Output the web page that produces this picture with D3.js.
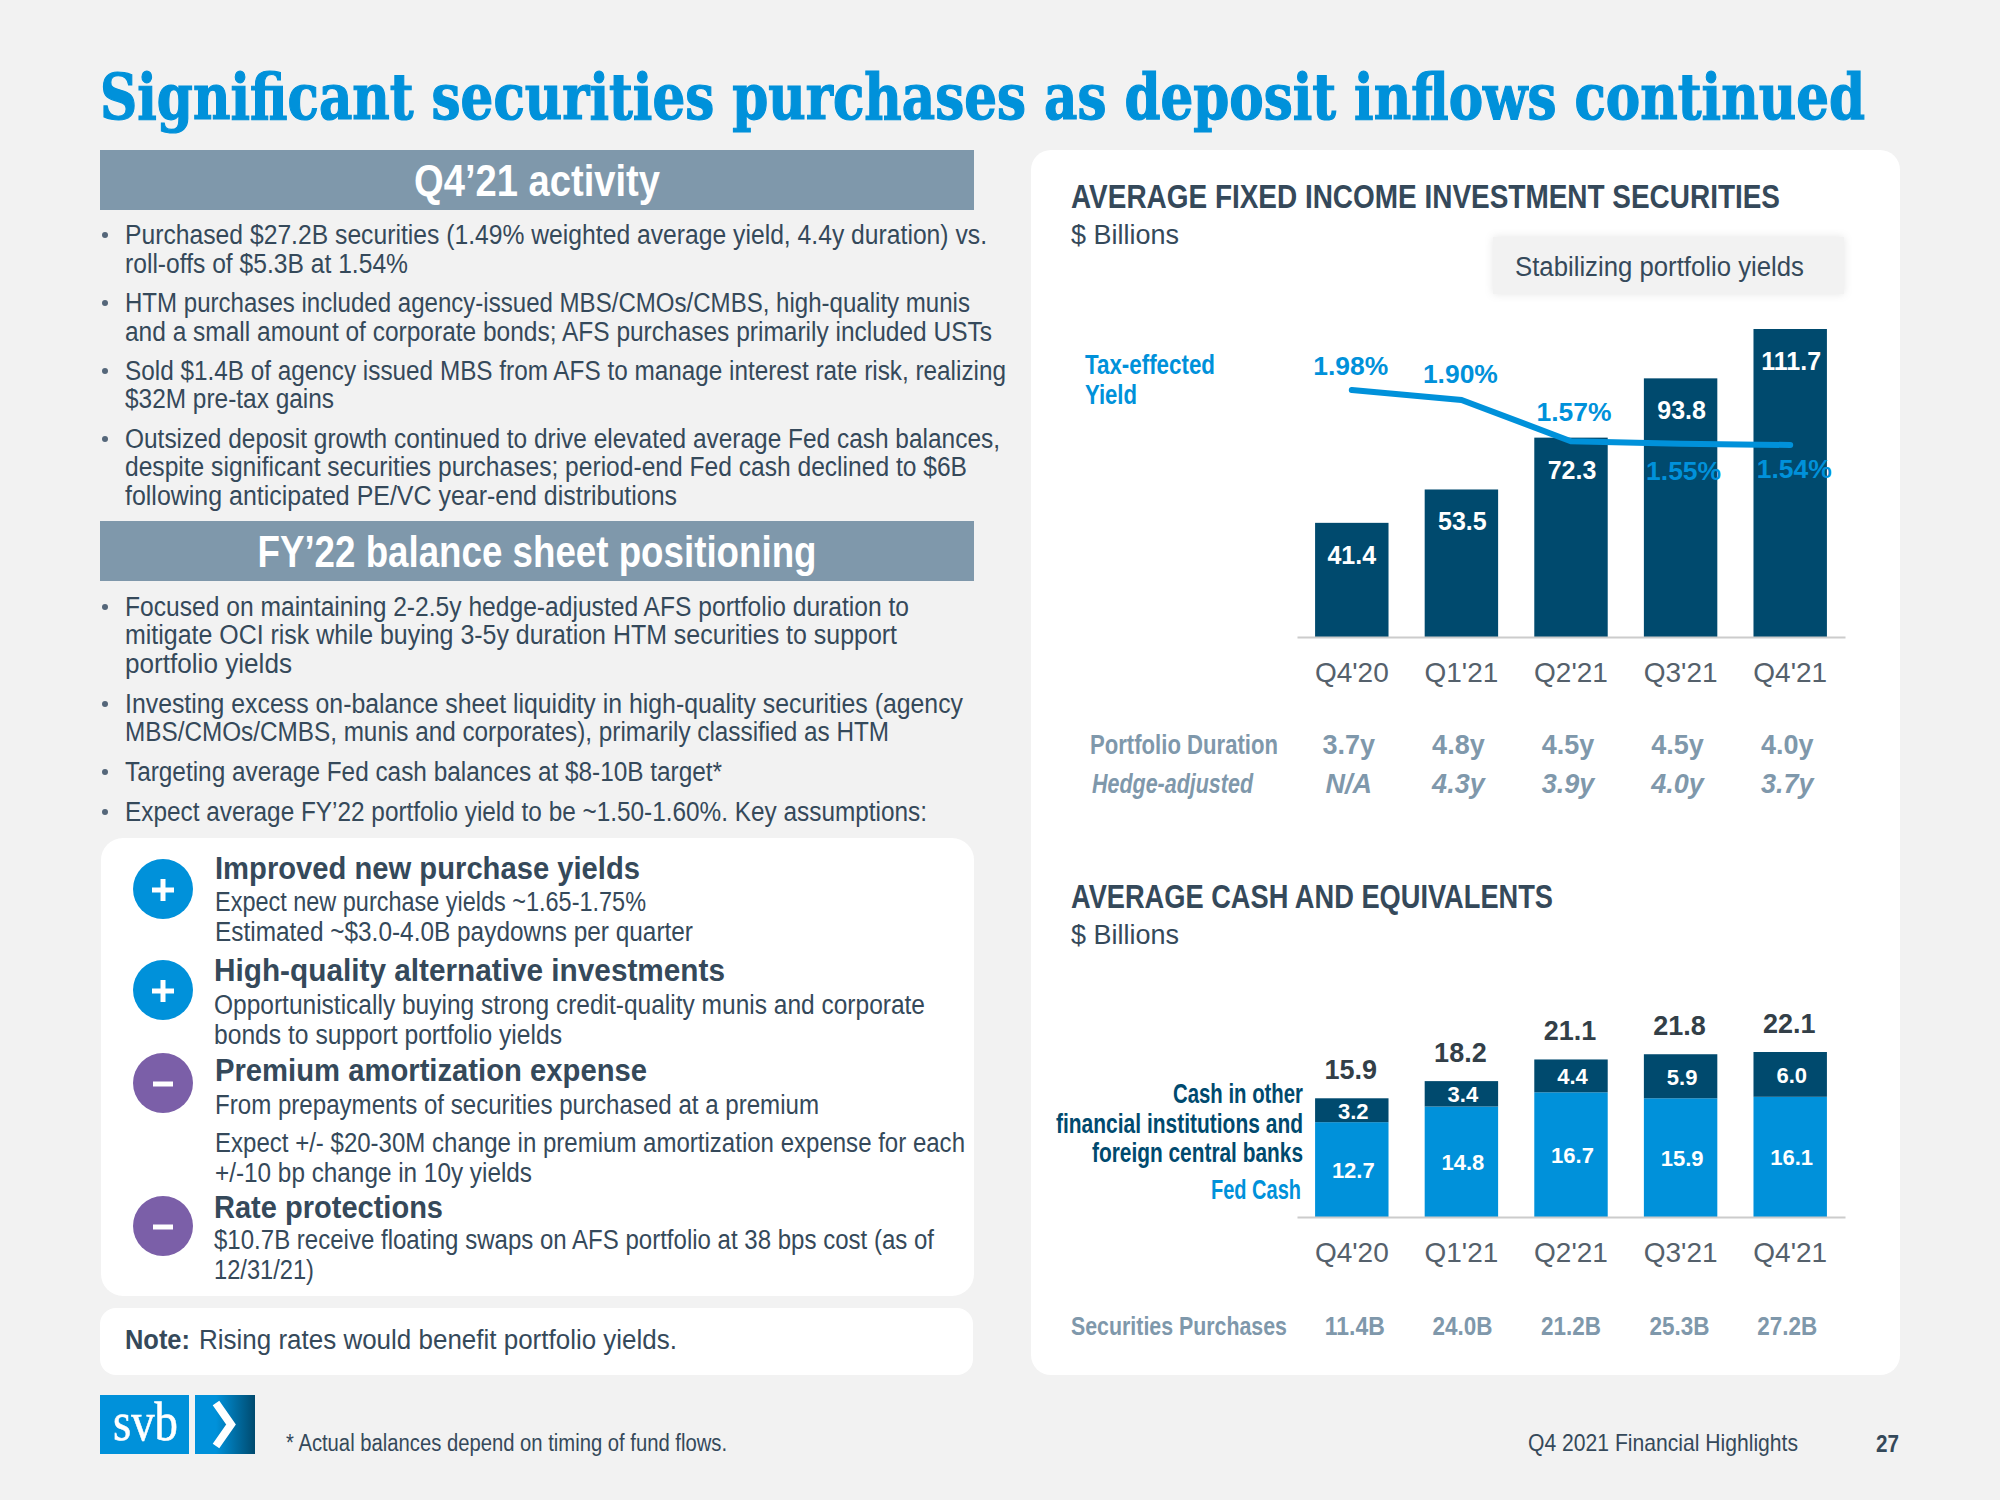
<!DOCTYPE html>
<html>
<head>
<meta charset="utf-8">
<script src="https://cdn.jsdelivr.net/npm/d3@7"></script>
<style>
  html, body { margin: 0; padding: 0; background: #f2f2f2; }
  svg { display: block; }
</style>
</head>
<body>
<div id="chart"></div>
<script>
// --- --- --- Data --- --- ---
const quarters = ["Q4'20", "Q1'21", "Q2'21", "Q3'21", "Q4'21"];
const securities = [41.4, 53.5, 72.3, 93.8, 111.7];
const yields = [1.98, 1.90, 1.57, 1.55, 1.54];
const duration = ["3.7y", "4.8y", "4.5y", "4.5y", "4.0y"];
const hedgeAdjusted = ["N/A", "4.3y", "3.9y", "4.0y", "3.7y"];
const fedCash = [12.7, 14.8, 16.7, 15.9, 16.1];
const otherCash = [3.2, 3.4, 4.4, 5.9, 6.0];
const cashTotals = [15.9, 18.2, 21.1, 21.8, 22.1];
const purchases = ["11.4B", "24.0B", "21.2B", "25.3B", "27.2B"];

const activityLines = [
  "Purchased $27.2B securities (1.49% weighted average yield, 4.4y duration) vs.",
  "roll-offs of $5.3B at 1.54%",
  "HTM purchases included agency-issued MBS/CMOs/CMBS, high-quality munis",
  "and a small amount of corporate bonds; AFS purchases primarily included USTs",
  "Sold $1.4B of agency issued MBS from AFS to manage interest rate risk, realizing",
  "$32M pre-tax gains",
  "Outsized deposit growth continued to drive elevated average Fed cash balances,",
  "despite significant securities purchases; period-end Fed cash declined to $6B",
  "following anticipated PE/VC year-end distributions"
];
const positioningLines = [
  "Focused on maintaining 2-2.5y hedge-adjusted AFS portfolio duration to",
  "mitigate OCI risk while buying 3-5y duration HTM securities to support",
  "portfolio yields",
  "Investing excess on-balance sheet liquidity in high-quality securities (agency",
  "MBS/CMOs/CMBS, munis and corporates), primarily classified as HTM",
  "Targeting average Fed cash balances at $8-10B target*",
  "Expect average FY’22 portfolio yield to be ~1.50-1.60%. Key assumptions:"
];
const assumptionLines = [
  "Improved new purchase yields",
  "Expect new purchase yields ~1.65-1.75%",
  "Estimated ~$3.0-4.0B paydowns per quarter",
  "High-quality alternative investments",
  "Opportunistically buying strong credit-quality munis and corporate",
  "bonds to support portfolio yields",
  "Premium amortization expense",
  "From prepayments of securities purchased at a premium",
  "Expect +/- $20-30M change in premium amortization expense for each",
  "+/-10 bp change in 10y yields",
  "Rate protections",
  "$10.7B receive floating swaps on AFS portfolio at 38 bps cost (as of",
  "12/31/21)"
];
const assumptionSigns = ["+", "+", "-", "-"];

// --- --- --- Layout (kept apart from the data) --- --- ---
const activityLayout = [[244, 862], [273, 283], [312, 845], [341, 867], [380, 881], [408, 209], [448, 875], [476, 842], [505, 552]];
const positioningLayout = [[616, 784], [644, 772], [673, 167], [713, 838], [741, 764], [781, 597], [821, 802]];
const activityBullets = [244, 312, 380, 448];
const positioningBullets = [616, 713, 781, 821];
const assumptionLayout = [
  [215, 879, 425, true], [215, 911, 431], [215, 941, 478],
  [214, 981, 511, true], [214, 1014, 711], [214, 1044, 348],
  [215, 1081, 432, true], [215, 1114, 604], [215, 1152, 750], [215, 1182, 317],
  [214, 1218, 229, true], [214, 1249, 720], [214, 1279, 100]
];
const signCenters = [889, 990, 1083, 1226];
const yieldLabelDx = [-1, -1, 3, 3, 4];
const yieldLabelDy = [-15, -17, -20, 36, 33];

const BLUE = "#0091da", NAVY = "#004a6e", SLATE = "#7f98ab", INK = "#35495a";
const NARROW = "'Liberation Sans Narrow', 'Liberation Sans', sans-serif";

const svg = d3.select("#chart").append("svg")
  .attr("width", 2000)
  .attr("height", 1500)
  .attr("viewBox", "0 0 2000 1500");

svg.append("rect").attr("width", 2000).attr("height", 1500).attr("fill", "#f2f2f2");

// every line of slide text is squeezed to the width it has in the slide
function addText(str, x, y, opts) {
  const o = opts || {};
  const t = svg.append("text")
    .attr("x", x)
    .attr("y", y)
    .attr("font-family", o.family || NARROW)
    .attr("font-size", o.size || 27)
    .attr("font-weight", o.bold ? 700 : 400)
    .attr("font-style", o.italic ? "italic" : "normal")
    .attr("fill", o.fill || INK)
    .attr("text-anchor", o.anchor || "start")
    .text(str);
  if (o.w) t.attr("textLength", o.w).attr("lengthAdjust", "spacingAndGlyphs");
  return t;
}

function panel(x, y, w, h, r) {
  svg.append("rect").attr("x", x).attr("y", y).attr("width", w).attr("height", h)
    .attr("rx", r).attr("fill", "white");
}

// --- --- --- Title --- --- ---
// natural width is wider than the slide, so scale it rather than use textLength
const title = addText("Significant securities purchases as deposit inflows continued", 0, 0, {
  family: "'DejaVu Serif Condensed', 'DejaVu Serif', serif", size: 64, bold: true, fill: BLUE
}).attr("stroke", BLUE).attr("stroke-width", 1.2);
title.attr("transform", `translate(100,119) scale(${1765 / title.node().getComputedTextLength()},1)`);

// --- --- --- Left column --- --- ---
function headerBar(y, label, w, baseline) {
  svg.append("rect").attr("x", 100).attr("y", y).attr("width", 874).attr("height", 60).attr("fill", SLATE);
  addText(label, 537, baseline, { size: 44, bold: true, fill: "white", anchor: "middle", w: w });
}

function bulletBlock(lines, layout, bullets) {
  lines.forEach((line, i) => addText(line, 125, layout[i][0], { w: layout[i][1] }));
  svg.selectAll(null).data(bullets).enter().append("circle")
    .attr("cx", 105)
    .attr("cy", d => d - 9)
    .attr("r", 3)
    .attr("fill", "#55677a");
}

headerBar(150, "Q4’21 activity", 246, 196);
bulletBlock(activityLines, activityLayout, activityBullets);
headerBar(521, "FY’22 balance sheet positioning", 559, 567);
bulletBlock(positioningLines, positioningLayout, positioningBullets);

panel(101, 838, 873, 458, 22);
assumptionLines.forEach((line, i) => {
  const [x, y, w, bold] = assumptionLayout[i];
  addText(line, x, y, { w: w, bold: bold, size: bold ? 32 : 27 });
});

assumptionSigns.forEach((s, i) => {
  const cy = signCenters[i];
  const plus = s === "+";
  svg.append("circle").attr("cx", 163).attr("cy", cy).attr("r", 30).attr("fill", plus ? BLUE : "#7b5fa8");
  svg.append("rect").attr("x", plus ? 152 : 153).attr("y", cy - 1.5)
    .attr("width", plus ? 22 : 20).attr("height", 5).attr("fill", "white");
  if (plus) {
    svg.append("rect").attr("x", 160.5).attr("y", cy - 10).attr("width", 5).attr("height", 22).attr("fill", "white");
  }
});

panel(100, 1308, 873, 67, 16);
addText("Note:", 125, 1349, { bold: true, w: 65 });
addText("Rising rates would benefit portfolio yields.", 199, 1349, { w: 478 });

// --- --- --- Logo and footer --- --- ---
const grad = svg.append("defs").append("linearGradient").attr("id", "logo_gradient");
grad.append("stop").attr("offset", "0.35").attr("stop-color", BLUE);
grad.append("stop").attr("offset", "1").attr("stop-color", NAVY);

svg.append("rect").attr("x", 100).attr("y", 1395).attr("width", 89).attr("height", 59).attr("fill", BLUE);
svg.append("rect").attr("x", 195).attr("y", 1395).attr("width", 60).attr("height", 59).attr("fill", "url(#logo_gradient)");
svg.append("path").attr("d", "M216,1403 L231,1424.5 L216,1446")
  .attr("fill", "none").attr("stroke", "white").attr("stroke-width", 8);
addText("svb", 113, 1440, { family: "'Liberation Serif', serif", size: 54, fill: "white", w: 65 })
  .attr("stroke", "white").attr("stroke-width", 0.6);

addText("* Actual balances depend on timing of fund flows.", 286, 1451, { size: 23, w: 441 });
addText("Q4 2021 Financial Highlights", 1528, 1451, { size: 24, w: 270 });
addText("27", 1876, 1452, { size: 24, bold: true, w: 23 });

// --- --- --- Right panel --- --- ---
panel(1031, 150, 869, 1225, 20);

const x = d3.scaleBand().domain(quarters).range([1297, 1845]).paddingInner(0.33).paddingOuter(0.165);
const cx = (q) => x(q) + x.bandwidth() / 2;

// Average fixed income securities
addText("AVERAGE FIXED INCOME INVESTMENT SECURITIES", 1071, 208, { size: 33, bold: true, w: 709 });
addText("$ Billions", 1071, 244, { w: 108 });

svg.append("rect").attr("x", 1493).attr("y", 237).attr("width", 351).attr("height", 57)
  .attr("fill", "#f2f2f2").style("filter", "drop-shadow(0 0 4px rgba(0,0,0,0.10))");
addText("Stabilizing portfolio yields", 1515, 276, { w: 289 });

addText("Tax-effected", 1085, 374, { bold: true, fill: BLUE, w: 130, size: 27 });
addText("Yield", 1085, 404, { bold: true, fill: BLUE, w: 52, size: 27 });

const ySec = d3.scaleLinear().domain([0, 111.7]).range([637, 329]);
const yYield = d3.scaleLinear().domain([1.54, 1.98]).range([445, 390]);

svg.append("g").selectAll("rect").data(quarters).enter().append("rect")
  .attr("x", d => x(d))
  .attr("y", (d, i) => ySec(securities[i]))
  .attr("width", x.bandwidth())
  .attr("height", (d, i) => ySec(0) - ySec(securities[i]))
  .attr("fill", NAVY);

quarters.forEach((q, i) => {
  addText(securities[i].toFixed(1), cx(q) + (i === 0 ? 0 : 1), ySec(securities[i]) + 41, {
    family: "'Liberation Sans', sans-serif", size: 25, bold: true, fill: "white", anchor: "middle"
  });
});

const yieldLine = d3.line()
  .x((d, i) => cx(quarters[i]))
  .y(d => yYield(d));

svg.append("path").datum(yields)
  .attr("d", yieldLine)
  .attr("fill", "none")
  .attr("stroke", BLUE)
  .attr("stroke-width", 6)
  .attr("stroke-linecap", "round");

yields.forEach((v, i) => {
  addText(v.toFixed(2) + "%", cx(quarters[i]) + yieldLabelDx[i], yYield(v) + yieldLabelDy[i], {
    family: "'Liberation Sans', sans-serif", size: 25, bold: true, fill: BLUE, anchor: "middle", w: 75
  });
});

function axisAt(y) {
  const g = svg.append("g")
    .attr("transform", `translate(0,${y})`)
    .call(d3.axisBottom(x).tickSize(0).tickPadding(25));
  g.select(".domain").attr("stroke", "#cccccc").attr("stroke-width", 2);
  g.selectAll("text")
    .attr("font-family", NARROW)
    .attr("font-size", 28)
    .attr("fill", "#55616c");
}
axisAt(637);

addText("Portfolio Duration", 1090, 754, { bold: true, fill: SLATE, w: 188 });
addText("Hedge-adjusted", 1092, 793, { bold: true, italic: true, fill: SLATE, w: 161 });
quarters.forEach((q, i) => {
  addText(duration[i], cx(q) - 3, 754, { bold: true, fill: SLATE, anchor: "middle" });
  addText(hedgeAdjusted[i], cx(q) - 3, 793, { bold: true, italic: true, fill: SLATE, anchor: "middle" });
});

// Average cash and equivalents
addText("AVERAGE CASH AND EQUIVALENTS", 1071, 908, { size: 33, bold: true, w: 482 });
addText("$ Billions", 1071, 944, { w: 108 });

const yCash = d3.scaleLinear().domain([0, 22.1]).range([1217, 1052]);
const stack = d3.stack().keys(["fed", "other"])(quarters.map((q, i) => ({ q: q, fed: fedCash[i], other: otherCash[i] })));
const stackColors = [BLUE, NAVY];

svg.append("g").selectAll("g").data(stack).enter().append("g")
  .attr("fill", (d, i) => stackColors[i])
  .selectAll("rect").data(d => d).enter().append("rect")
  .attr("x", d => x(d.data.q))
  .attr("y", d => yCash(d[1]))
  .attr("width", x.bandwidth())
  .attr("height", d => yCash(d[0]) - yCash(d[1]));

stack.forEach(layer => {
  layer.forEach((d) => {
    addText((d[1] - d[0]).toFixed(1), cx(d.data.q) + 1.5, (yCash(d[0]) + yCash(d[1])) / 2 + 8.5, {
      family: "'Liberation Sans', sans-serif", size: 22, bold: true, fill: "white", anchor: "middle"
    });
  });
});

quarters.forEach((q, i) => {
  addText(cashTotals[i].toFixed(1), cx(q) - 1, yCash(cashTotals[i]) - 19, {
    family: "'Liberation Sans', sans-serif", size: 27, bold: true, fill: "#333f48", anchor: "middle"
  });
});

addText("Cash in other", 1173, 1103, { bold: true, fill: NAVY, w: 130, size: 27 });
addText("financial institutions and", 1056, 1133, { bold: true, fill: NAVY, w: 247, size: 27 });
addText("foreign central banks", 1092, 1162, { bold: true, fill: NAVY, w: 211, size: 27 });
addText("Fed Cash", 1211, 1199, { bold: true, fill: BLUE, w: 90, size: 27 });

axisAt(1217);

addText("Securities Purchases", 1071, 1335, { bold: true, fill: SLATE, w: 216, size: 26 });
quarters.forEach((q, i) => {
  addText(purchases[i], cx(q) + [3, 1, 0, -1, -3][i], 1335, { bold: true, fill: SLATE, anchor: "middle", w: 60, size: 26 });
});
</script>
</body>
</html>
